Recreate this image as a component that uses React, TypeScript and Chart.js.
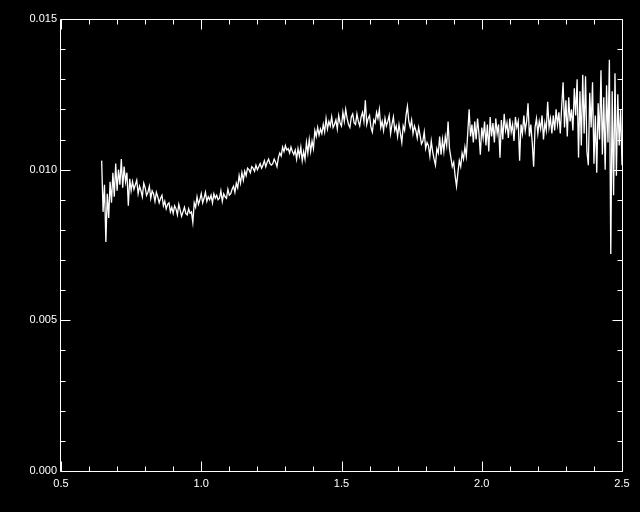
import React, { useEffect, useRef } from "react";
import { Chart, registerables } from "chart.js";

Chart.register(...registerables);

const wavelength = [
  0.645, 0.650, 0.655, 0.660, 0.665, 0.670, 0.675, 0.680, 0.685, 0.690, 0.695, 0.700,
  0.705, 0.710, 0.715, 0.720, 0.725, 0.730, 0.735, 0.740, 0.745, 0.750,
  0.755, 0.760, 0.765, 0.770, 0.775, 0.780, 0.785, 0.790, 0.795, 0.800, 0.805, 0.810, 0.815, 0.820, 0.825, 0.830, 0.835, 0.840, 0.845, 0.850,
  0.855, 0.860, 0.865, 0.870, 0.875, 0.880, 0.885, 0.890, 0.895, 0.900, 0.905, 0.910, 0.915, 0.920, 0.925, 0.930, 0.935, 0.940, 0.945, 0.950,
  0.955, 0.960, 0.965, 0.970, 0.975, 0.980, 0.985, 0.990, 0.995, 1.000, 1.005, 1.010, 1.015, 1.020, 1.025, 1.030, 1.035, 1.040, 1.045, 1.050,
  1.055, 1.060, 1.065, 1.070, 1.075, 1.080, 1.085, 1.090, 1.095, 1.100, 1.105, 1.110, 1.115, 1.120, 1.125, 1.130, 1.135, 1.140, 1.145, 1.150,
  1.155, 1.160, 1.165, 1.170, 1.175, 1.180, 1.185, 1.190, 1.195, 1.200, 1.205, 1.210, 1.215, 1.220, 1.225, 1.230, 1.235, 1.240, 1.245, 1.250,
  1.255, 1.260, 1.265, 1.270, 1.275, 1.280, 1.285, 1.290, 1.295, 1.300, 1.305, 1.310, 1.315, 1.320, 1.325, 1.330, 1.335, 1.340, 1.345, 1.350,
  1.355, 1.360, 1.365, 1.370, 1.375, 1.380, 1.385, 1.390, 1.395, 1.400, 1.405, 1.410, 1.415, 1.420, 1.425, 1.430, 1.435, 1.440, 1.445, 1.450,
  1.455, 1.460, 1.465, 1.470, 1.475, 1.480, 1.485, 1.490, 1.495, 1.500, 1.505, 1.510, 1.515, 1.520, 1.525, 1.530, 1.535, 1.540, 1.545, 1.550,
  1.555, 1.560, 1.565, 1.570, 1.575, 1.580, 1.585, 1.590, 1.595, 1.600, 1.605, 1.610, 1.615, 1.620, 1.625, 1.630, 1.635, 1.640, 1.645, 1.650,
  1.655, 1.660, 1.665, 1.670, 1.675, 1.680, 1.685, 1.690, 1.695, 1.700, 1.705, 1.710, 1.715, 1.720, 1.725, 1.730, 1.735, 1.740, 1.745, 1.750,
  1.755, 1.760, 1.765, 1.770, 1.775, 1.780, 1.785, 1.790, 1.795, 1.800, 1.805, 1.810, 1.815, 1.820, 1.825, 1.830, 1.835, 1.840, 1.845, 1.850,
  1.855, 1.860, 1.865, 1.870, 1.875, 1.880, 1.885, 1.890, 1.895, 1.900, 1.905, 1.910, 1.915, 1.920, 1.925, 1.930, 1.935, 1.940, 1.945, 1.950,
  1.955, 1.960, 1.965, 1.970, 1.975, 1.980, 1.985, 1.990, 1.995, 2.000, 2.005, 2.010, 2.015, 2.020, 2.025, 2.030, 2.035, 2.040, 2.045, 2.050,
  2.055, 2.060, 2.065, 2.070, 2.075, 2.080, 2.085, 2.090, 2.095, 2.100, 2.105, 2.110, 2.115, 2.120, 2.125, 2.130, 2.135, 2.140, 2.145, 2.150,
  2.155, 2.160, 2.165, 2.170, 2.175, 2.180, 2.185, 2.190, 2.195, 2.200, 2.205, 2.210, 2.215, 2.220, 2.225, 2.230, 2.235, 2.240, 2.245, 2.250,
  2.255, 2.260, 2.265, 2.270, 2.275, 2.280, 2.285, 2.290, 2.295, 2.300, 2.305, 2.310, 2.315, 2.320, 2.325, 2.330, 2.335, 2.340, 2.345, 2.350,
  2.355, 2.360, 2.365, 2.370, 2.375, 2.380, 2.385, 2.390, 2.395, 2.400, 2.405, 2.410, 2.415, 2.420, 2.425, 2.430, 2.435, 2.440, 2.445, 2.450,
  2.455, 2.460, 2.465, 2.470, 2.475, 2.480, 2.485, 2.490, 2.495, 2.500,
];

const flux = [
  0.01030, 0.00860, 0.00950, 0.00760, 0.00920, 0.00840, 0.00960, 0.00890, 0.00990, 0.00910, 0.01020, 0.00930,
  0.01000, 0.00950, 0.01035, 0.00940, 0.01010, 0.00960, 0.00990, 0.00880, 0.00970, 0.00930,
  0.00960, 0.00935, 0.00950, 0.00965, 0.00920, 0.00945, 0.00930, 0.00910, 0.00955, 0.00940, 0.00915, 0.00925, 0.00945, 0.00905, 0.00930, 0.00920, 0.00895, 0.00925, 0.00910, 0.00890,
  0.00905, 0.00915, 0.00880, 0.00895, 0.00870, 0.00885, 0.00890, 0.00860, 0.00875, 0.00855, 0.00880, 0.00870, 0.00850, 0.00885, 0.00865, 0.00845, 0.00860, 0.00875, 0.00855, 0.00850,
  0.00870, 0.00855, 0.00860, 0.00825, 0.00890, 0.00875, 0.00910, 0.00885, 0.00900, 0.00920, 0.00890, 0.00905, 0.00925, 0.00895, 0.00910, 0.00900, 0.00915, 0.00890, 0.00920, 0.00905,
  0.00915, 0.00900, 0.00905, 0.00930, 0.00895, 0.00920, 0.00910, 0.00905, 0.00935, 0.00915, 0.00920, 0.00935, 0.00945, 0.00925, 0.00955, 0.00940, 0.00980, 0.00955, 0.00990, 0.00965,
  0.00995, 0.00980, 0.01005, 0.01000, 0.00990, 0.01010, 0.01005, 0.00995, 0.01015, 0.01000, 0.01010, 0.01020, 0.01005, 0.01015, 0.01030, 0.01010, 0.01025, 0.01035, 0.01020, 0.01015,
  0.01020, 0.01035, 0.01025, 0.01010, 0.01040, 0.01055, 0.01045, 0.01075, 0.01060, 0.01080, 0.01065, 0.01070, 0.01055, 0.01075, 0.01060, 0.01050, 0.01065, 0.01035, 0.01070, 0.01045,
  0.01075, 0.01030, 0.01060, 0.01035, 0.01090, 0.01055, 0.01100, 0.01060, 0.01095, 0.01070, 0.01130, 0.01110, 0.01140, 0.01115, 0.01135, 0.01120, 0.01150, 0.01125, 0.01170, 0.01135,
  0.01160, 0.01145, 0.01175, 0.01140, 0.01150, 0.01165, 0.01135, 0.01180, 0.01155, 0.01145, 0.01190, 0.01160, 0.01200, 0.01170, 0.01150, 0.01140, 0.01175, 0.01185, 0.01155, 0.01150,
  0.01185, 0.01160, 0.01145, 0.01175, 0.01190, 0.01160, 0.01230, 0.01150, 0.01170, 0.01180, 0.01140, 0.01125, 0.01165, 0.01155, 0.01190, 0.01170, 0.01200, 0.01140, 0.01160, 0.01130,
  0.01170, 0.01145, 0.01160, 0.01180, 0.01120, 0.01150, 0.01175, 0.01130, 0.01145, 0.01110, 0.01150, 0.01120, 0.01090, 0.01145, 0.01130, 0.01180, 0.01210, 0.01160, 0.01140, 0.01165,
  0.01120, 0.01145, 0.01130, 0.01105, 0.01140, 0.01115, 0.01085, 0.01095, 0.01125, 0.01070, 0.01090, 0.01080, 0.01045, 0.01095, 0.01060, 0.01035, 0.01015, 0.01070, 0.01055, 0.01110,
  0.01050, 0.01100, 0.01060, 0.01110, 0.01080, 0.01160, 0.01070, 0.01040, 0.01010, 0.01025, 0.00980, 0.00945, 0.00990, 0.01030, 0.01010, 0.01055, 0.01035, 0.01075, 0.01045, 0.01120,
  0.01200, 0.01110, 0.01150, 0.01090, 0.01160, 0.01100, 0.01170, 0.01120, 0.01050, 0.01140, 0.01105, 0.01160, 0.01080, 0.01150, 0.01060, 0.01175, 0.01110, 0.01155, 0.01090, 0.01170,
  0.01120, 0.01150, 0.01040, 0.01165, 0.01100, 0.01185, 0.01130, 0.01155, 0.01105, 0.01170, 0.01125, 0.01150, 0.01095, 0.01175, 0.01140, 0.01160, 0.01030, 0.01150, 0.01120, 0.01180,
  0.01130, 0.01160, 0.01220, 0.01110, 0.01150, 0.01090, 0.01010, 0.01140, 0.01170, 0.01120, 0.01160, 0.01135, 0.01180, 0.01100, 0.01155, 0.01130, 0.01225, 0.01140, 0.01170, 0.01120,
  0.01180, 0.01130, 0.01200, 0.01150, 0.01190, 0.01120, 0.01210, 0.01290, 0.01140, 0.01230, 0.01110, 0.01240, 0.01160, 0.01200, 0.01130, 0.01270, 0.01180, 0.01300, 0.01040, 0.01260,
  0.01080, 0.01315, 0.01120, 0.01310, 0.01060, 0.01015, 0.01255, 0.01140, 0.01290, 0.01020, 0.01180, 0.00990, 0.01220, 0.01100, 0.01330, 0.01050, 0.01240, 0.01000, 0.01280, 0.01090,
  0.01365, 0.00720, 0.01260, 0.00915, 0.01320, 0.00980, 0.01250, 0.01080, 0.01200, 0.01015,
];

const xMajorTicks = [0.5, 1.0, 1.5, 2.0, 2.5];
const xMinorTicks = [0.6, 0.7, 0.8, 0.9, 1.1, 1.2, 1.3, 1.4, 1.6, 1.7, 1.8, 1.9, 2.1, 2.2, 2.3, 2.4];
const yMajorTicks = [0, 0.005, 0.01, 0.015];
const yMinorTicks = [0.001, 0.002, 0.003, 0.004, 0.006, 0.007, 0.008, 0.009, 0.011, 0.012, 0.013, 0.014];

const FONT = { family: "'Liberation Sans', Arial, sans-serif", size: 11 };

const boxPlugin = {
  id: "idlBox",
  afterDraw(chart: any) {
    const ctx = chart.ctx;
    const { left, right, top, bottom } = chart.chartArea;
    const xs = chart.scales.x;
    const ys = chart.scales.y;
    const L = Math.round(left) - 0.5;
    const R = Math.round(right) + 0.5;
    const T = Math.round(top) + 0.5;
    const B = Math.round(bottom) + 0.5;
    ctx.save();
    ctx.strokeStyle = "#ffffff";
    ctx.lineWidth = 1;
    ctx.beginPath();
    ctx.rect(L, T, R - L, B - T);
    const xt = (vals: number[], len: number) => {
      for (const v of vals) {
        const p = Math.round(xs.getPixelForValue(v)) + 0.5;
        ctx.moveTo(p, B);
        ctx.lineTo(p, B - len);
        ctx.moveTo(p, T);
        ctx.lineTo(p, T + len);
      }
    };
    const yt = (vals: number[], len: number) => {
      for (const v of vals) {
        const p = Math.round(ys.getPixelForValue(v)) + 0.5;
        ctx.moveTo(L, p);
        ctx.lineTo(L + len, p);
        ctx.moveTo(R, p);
        ctx.lineTo(R - len, p);
      }
    };
    xt(xMajorTicks, 10);
    xt(xMinorTicks, 5);
    yt(yMajorTicks, 10);
    yt(yMinorTicks, 5);
    ctx.stroke();
    ctx.restore();
  },
};

export default function App() {
  const ref = useRef<HTMLCanvasElement | null>(null);
  useEffect(() => {
    if (!ref.current) return;
    const chart = new Chart(ref.current, {
      type: "line",
      data: {
        datasets: [
          {
            data: wavelength.map((x, i) => ({ x, y: flux[i] })),
            borderColor: "#ffffff",
            borderWidth: 1.3,
            pointRadius: 0,
            tension: 0,
            fill: false,
          },
        ],
      },
      options: {
        responsive: false,
        animation: false,
        devicePixelRatio: 1,
        layout: { padding: { left: 0, right: 18, top: 19, bottom: 0 } },
        plugins: { legend: { display: false }, tooltip: { enabled: false } },
        scales: {
          x: {
            type: "linear",
            min: 0.5,
            max: 2.5,
            ticks: {
              stepSize: 0.5,
              callback: (v: any) => Number(v).toFixed(1),
              color: "#ffffff",
              font: FONT,
              padding: 6,
              maxRotation: 0,
              autoSkip: false,
            },
            grid: { display: false, drawTicks: false },
            border: { display: false },
            afterFit: (s: any) => {
              s.height = 41;
            },
          },
          y: {
            type: "linear",
            min: 0,
            max: 0.015,
            ticks: {
              stepSize: 0.005,
              callback: (v: any) => Number(v).toFixed(3),
              color: "#ffffff",
              font: FONT,
              padding: 4,
            },
            grid: { display: false, drawTicks: false },
            border: { display: false },
            afterFit: (s: any) => {
              s.width = 61;
            },
          },
        },
      },
      plugins: [boxPlugin],
    } as any);
    return () => chart.destroy();
  }, []);
  return (
    <div style={{ position: "fixed", left: 0, top: 0, width: 640, height: 512, background: "#000000" }}>
      <canvas ref={ref} width={640} height={512} style={{ display: "block" }} />
    </div>
  );
}
